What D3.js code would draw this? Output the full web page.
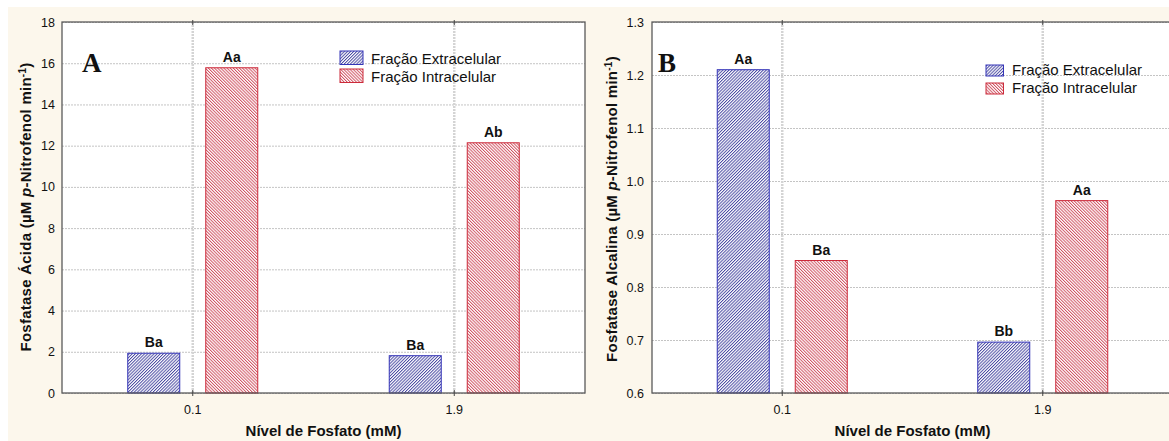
<!DOCTYPE html>
<html>
<head>
<meta charset="utf-8">
<script src="https://cdn.jsdelivr.net/npm/d3@7"></script>
<style>
  body { margin: 0; background: #fff; }
  text { font-family: "Liberation Sans", Arial, sans-serif; fill: #111; }
</style>
</head>
<body>
<div id="chart"></div>
<script>
(function () {

  // data
  const categories = ["0.1", "1.9"]
  const seriesNames = ["Fração Extracelular", "Fração Intracelular"]

  const acidExtra = [1.93, 1.81]
  const acidIntra = [15.78, 12.14]
  const acidExtraLetters = ["Ba", "Ba"]
  const acidIntraLetters = ["Aa", "Ab"]
  const acidTicks = [0, 2, 4, 6, 8, 10, 12, 14, 16, 18]

  const alkExtra = [1.21, 0.696]
  const alkIntra = [0.85, 0.963]
  const alkExtraLetters = ["Aa", "Bb"]
  const alkIntraLetters = ["Ba", "Aa"]
  const alkTicks = [0.6, 0.7, 0.8, 0.9, 1.0, 1.1, 1.2, 1.3]

  const W = 1169, H = 441

  const svg = d3.select("#chart").append("svg")
      .attr("width", W)
      .attr("height", H)

  // hatch patterns
  const defs = svg.append("defs")
  const hatch = [
    { id: "hatch-blue", rot: 45, color: "#3c3c9c" },
    { id: "hatch-red", rot: -45, color: "#cc4455" }
  ]
  hatch.forEach(h => {
    const p = defs.append("pattern")
      .attr("id", h.id)
      .attr("patternUnits", "userSpaceOnUse")
      .attr("width", 2.2)
      .attr("height", 2.2)
      .attr("patternTransform", "rotate(" + h.rot + ")")
    p.append("rect").attr("width", 2.2).attr("height", 2.2).attr("fill", "#fff")
    p.append("line")
      .attr("x1", 0.5).attr("y1", -1).attr("x2", 0.5).attr("y2", 4)
      .attr("stroke", h.color).attr("stroke-width", 0.9)
  })
  const fills = ["url(#hatch-blue)", "url(#hatch-red)"]
  const borders = ["#3434b8", "#cc2a3a"]

  // backgrounds
  svg.append("rect").attr("width", W).attr("height", H).attr("fill", "#fff")
  svg.append("rect").attr("x", 8).attr("y", 7).attr("width", W - 8).attr("height", H - 7)
    .attr("fill", "#fcf7ec")

  const panels = [
    {
      left: 62, top: 22, width: 523, height: 371,
      domain: [0, 18], ticks: acidTicks, fmt: d3.format("d"), tickPad: 7,
      values: [acidExtra, acidIntra], letters: [acidExtraLetters, acidIntraLetters],
      tag: "A", tagX: 82, tagY: 72,
      ytitle: "Fosfatase Ácida (µM ", ytitleX: 31, ytitleY: 207,
      legend: { x: 340, y: 51, sw: 23, sh: 13.5, step: 18, tx: 371 }
    },
    {
      left: 652, top: 22, width: 521, height: 371,
      domain: [0.6, 1.3], ticks: alkTicks, fmt: d3.format(".1f"), tickPad: 8,
      values: [alkExtra, alkIntra], letters: [alkExtraLetters, alkIntraLetters],
      tag: "B", tagX: 658, tagY: 72,
      ytitle: "Fosfatase Alcalina (µM ", ytitleX: 617, ytitleY: 209,
      legend: { x: 986, y: 65, sw: 17.5, sh: 11, step: 18, tx: 1012 }
    }
  ]

  panels.forEach(p => {
    const g = svg.append("g")
      .attr("transform", "translate(" + p.left + "," + p.top + ")")

    const xPositionScale = d3.scaleBand()
      .domain(categories)
      .range([0, p.width])

    const seriesScale = d3.scaleBand()
      .domain(seriesNames)
      .range([-65, 65])
      .paddingInner(1 / 3)

    const yPositionScale = d3.scaleLinear()
      .domain(p.domain)
      .range([p.height, 0])

    g.append("rect")
      .attr("width", p.width)
      .attr("height", p.height)
      .attr("fill", "#fff")

    // horizontal grid
    g.append("g")
      .attr("class", "grid")
      .call(d3.axisLeft(yPositionScale).tickValues(p.ticks).tickSize(-p.width).tickFormat(""))
      .call(a => a.select(".domain").remove())
      .call(a => a.selectAll("line")
        .attr("stroke", "#c4c4c4")
        .attr("stroke-dasharray", "2,1"))

    // vertical grid at categories
    g.selectAll(".vgrid")
      .data(categories)
      .join("line")
      .attr("class", "vgrid")
      .attr("x1", d => xPositionScale(d) + xPositionScale.bandwidth() / 2)
      .attr("x2", d => xPositionScale(d) + xPositionScale.bandwidth() / 2)
      .attr("y1", 0)
      .attr("y2", p.height)
      .attr("stroke", "#d4d4d4")
      .attr("stroke-width", 2.5)
      .attr("stroke-dasharray", "2,1")

    // bars
    seriesNames.forEach((s, si) => {
      const rows = categories.map((c, i) => ({ cat: c, value: p.values[si][i], letter: p.letters[si][i] }))
      const cx = d => xPositionScale(d.cat) + xPositionScale.bandwidth() / 2 + seriesScale(s)

      g.selectAll(".bar-" + si)
        .data(rows)
        .join("rect")
        .attr("class", "bar-" + si)
        .attr("x", cx)
        .attr("width", seriesScale.bandwidth())
        .attr("y", d => yPositionScale(d.value))
        .attr("height", d => p.height - yPositionScale(d.value))
        .attr("fill", fills[si])
        .attr("stroke", borders[si])
        .attr("stroke-width", 1)

      g.selectAll(".lab-" + si)
        .data(rows)
        .join("text")
        .attr("class", "lab-" + si)
        .attr("x", d => cx(d) + seriesScale.bandwidth() / 2)
        .attr("y", d => yPositionScale(d.value) - 6)
        .attr("text-anchor", "middle")
        .style("font-size", "14px")
        .style("font-weight", "bold")
        .text(d => d.letter)
    })

    // frame
    g.append("rect")
      .attr("width", p.width)
      .attr("height", p.height)
      .attr("fill", "none")
      .attr("stroke", "#5a5a5a")
      .attr("stroke-width", 1.3)

    // y axis labels
    const yAxis = d3.axisLeft(yPositionScale)
      .tickValues(p.ticks)
      .tickFormat(p.fmt)
      .tickSize(0)
      .tickPadding(p.tickPad)
    g.append("g")
      .attr("class", "axis y-axis")
      .call(yAxis)
      .call(a => a.select(".domain").remove())
      .call(a => a.selectAll("text")
        .style("font-size", "12.5px")
        .style("font-family", "Liberation Sans, Arial, sans-serif")
        .attr("fill", "#222"))

    // x axis
    const xAxis = d3.axisBottom(xPositionScale)
      .tickSizeInner(3)
      .tickSizeOuter(0)
      .tickPadding(9)
    g.append("g")
      .attr("class", "axis x-axis")
      .attr("transform", "translate(0," + p.height + ")")
      .call(xAxis)
      .call(a => a.select(".domain").remove())
      .call(a => a.selectAll("line").attr("stroke", "#444").attr("y1", -3))
      .call(a => a.selectAll("text")
        .style("font-size", "12.5px")
        .style("font-family", "Liberation Sans, Arial, sans-serif")
        .attr("fill", "#222"))

    // top ticks
    g.selectAll(".top-tick")
      .data(categories)
      .join("line")
      .attr("class", "top-tick")
      .attr("x1", d => xPositionScale(d) + xPositionScale.bandwidth() / 2)
      .attr("x2", d => xPositionScale(d) + xPositionScale.bandwidth() / 2)
      .attr("y1", -2)
      .attr("y2", 3)
      .attr("stroke", "#444")

    // x title
    svg.append("text")
      .attr("x", p.left + p.width / 2)
      .attr("y", 436)
      .attr("text-anchor", "middle")
      .style("font-size", "15px")
      .style("font-weight", "bold")
      .text("Nível de Fosfato (mM)")

    // y title
    const yt = svg.append("text")
      .attr("transform", "translate(" + p.ytitleX + "," + p.ytitleY + ") rotate(-90)")
      .attr("text-anchor", "middle")
      .style("font-size", "15px")
      .style("letter-spacing", "0.25px")
      .style("font-weight", "bold")
    yt.append("tspan").text(p.ytitle)
    yt.append("tspan").style("font-style", "italic").text("p")
    yt.append("tspan").text("-Nitrofenol min")
    yt.append("tspan").attr("dy", -5).style("font-size", "10px").text("-1")
    yt.append("tspan").attr("dy", 5).text(")")

    // panel tag
    svg.append("text")
      .attr("x", p.tagX)
      .attr("y", p.tagY)
      .style("font-family", "Liberation Serif, Times New Roman, serif")
      .style("font-size", "27px")
      .style("font-weight", "bold")
      .text(p.tag)

    // legend
    const lg = svg.append("g")
    seriesNames.forEach((s, si) => {
      lg.append("rect")
        .attr("x", p.legend.x)
        .attr("y", p.legend.y + si * p.legend.step)
        .attr("width", p.legend.sw)
        .attr("height", p.legend.sh)
        .attr("fill", fills[si])
        .attr("stroke", borders[si])
      lg.append("text")
        .attr("x", p.legend.tx)
        .attr("y", p.legend.y + si * p.legend.step + p.legend.sh - 1)
        .style("font-size", "15px")
        .attr("fill", "#222")
        .text(s)
    })
  })

})();
</script>
</body>
</html>
